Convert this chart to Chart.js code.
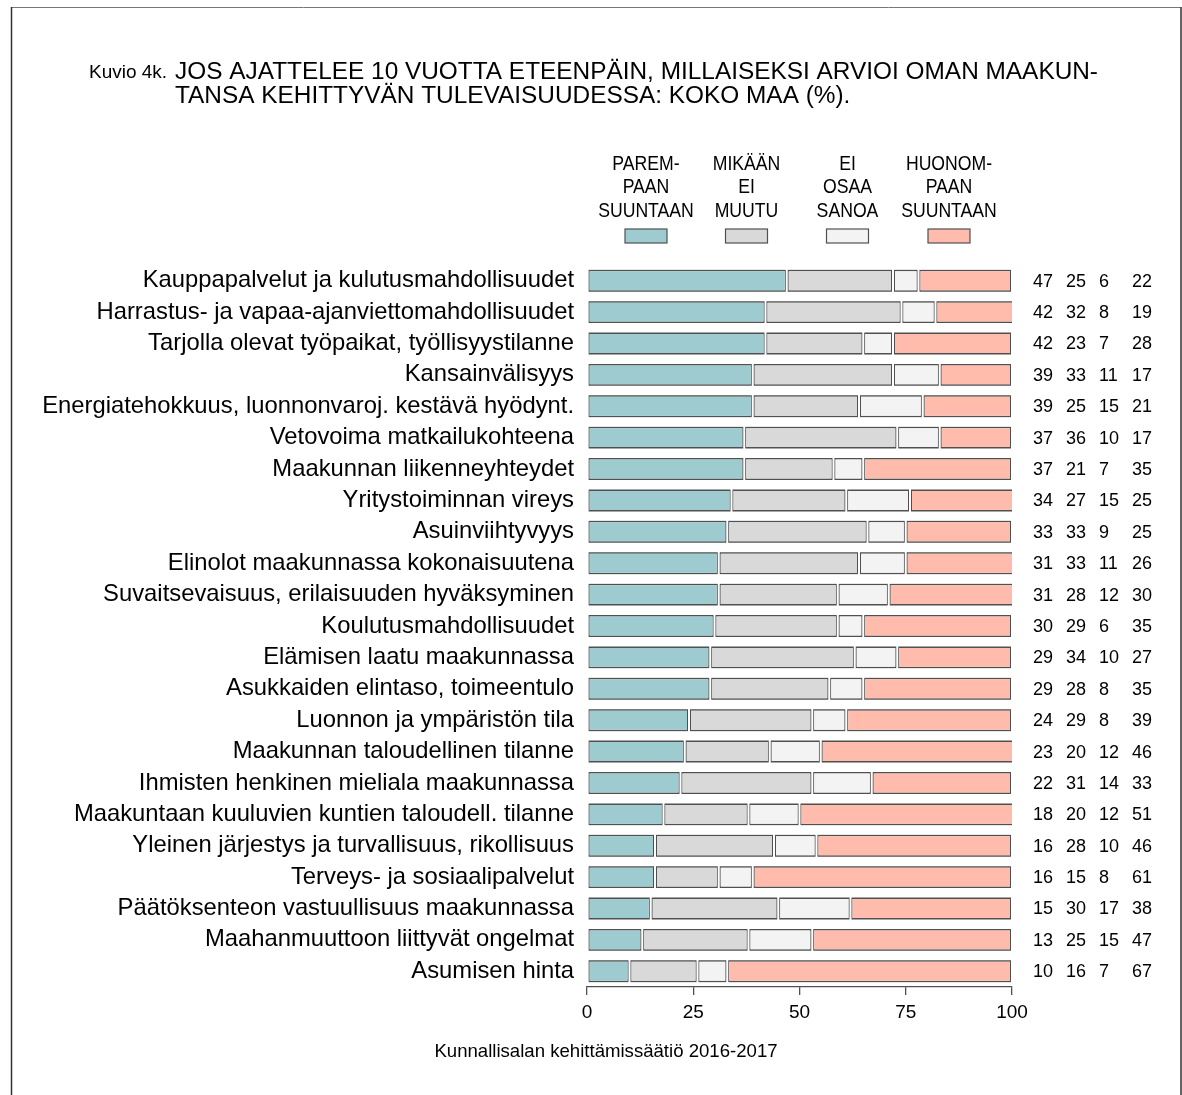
<!DOCTYPE html>
<html>
<head>
<meta charset="utf-8">
<script src="https://cdn.jsdelivr.net/npm/chart.js@4/dist/chart.umd.min.js"></script>
<style>
	html, body { margin: 0; padding: 0; background: #fff; }
	#wrap { position: relative; width: 1182px; height: 1095px; }
</style>
</head>
<body>
<div id="wrap"><canvas id="grafico" width="1182" height="1095"></canvas></div>
<script>
const categorias = [
	"Kauppapalvelut ja kulutusmahdollisuudet",
	"Harrastus- ja vapaa-ajanviettomahdollisuudet",
	"Tarjolla olevat työpaikat, työllisyystilanne",
	"Kansainvälisyys",
	"Energiatehokkuus, luonnonvaroj. kestävä hyödynt.",
	"Vetovoima matkailukohteena",
	"Maakunnan liikenneyhteydet",
	"Yritystoiminnan vireys",
	"Asuinviihtyvyys",
	"Elinolot maakunnassa kokonaisuutena",
	"Suvaitsevaisuus, erilaisuuden hyväksyminen",
	"Koulutusmahdollisuudet",
	"Elämisen laatu maakunnassa",
	"Asukkaiden elintaso, toimeentulo",
	"Luonnon ja ympäristön tila",
	"Maakunnan taloudellinen tilanne",
	"Ihmisten henkinen mieliala maakunnassa",
	"Maakuntaan kuuluvien kuntien taloudell. tilanne",
	"Yleinen järjestys ja turvallisuus, rikollisuus",
	"Terveys- ja sosiaalipalvelut",
	"Päätöksenteon vastuullisuus maakunnassa",
	"Maahanmuuttoon liittyvät ongelmat",
	"Asumisen hinta",
]

const parempaan = [47, 42, 42, 39, 39, 37, 37, 34, 33, 31, 31, 30, 29, 29, 24, 23, 22, 18, 16, 16, 15, 13, 10]
const eiMuutu = [25, 32, 23, 33, 25, 36, 21, 27, 33, 33, 28, 29, 34, 28, 29, 20, 31, 20, 28, 15, 30, 25, 16]
const eiOsaa = [6, 8, 7, 11, 15, 10, 7, 15, 9, 11, 12, 6, 10, 8, 8, 12, 14, 12, 10, 8, 17, 15, 7]
const huonompaan = [22, 19, 28, 17, 21, 17, 35, 25, 25, 26, 30, 35, 27, 35, 39, 46, 33, 51, 46, 61, 38, 47, 67]

const sarjat = [
	["PAREM-", "PAAN", "SUUNTAAN"],
	["MIKÄÄN", "EI", "MUUTU"],
	["EI", "OSAA", "SANOA"],
	["HUONOM-", "PAAN", "SUUNTAAN"],
]
const xTicks = [0, 25, 50, 75, 100]

const cores = ["#9ecbd0", "#d9d9d9", "#f3f3f3", "#ffbcad"]
const borda = "#505050"
const FONTE = "'Liberation Sans', Arial, sans-serif"

var valores = [parempaan, eiMuutu, eiOsaa, huonompaan]

// cada segmento cortado 1px dos lados -> fica o vao branco entre eles
const drawOrig = Chart.BarElement.prototype.draw
Chart.BarElement.prototype.draw = function (ctx) {
	const b = this.getProps(["x", "y", "base", "height"])
	const esq = Math.min(b.x, b.base)
	const dir = Math.max(b.x, b.base)
	ctx.save()
	ctx.beginPath()
	ctx.rect(esq + 1, b.y - b.height / 2 + 0.5, dir - esq - 2, b.height - 1)
	ctx.clip()
	drawOrig.call(this, ctx)
	ctx.restore()
}

// moldura, titulo, legenda, numeros da direita e rodape
const extras = {
	id: "extras",
	beforeDraw(chart) {
		const ctx = chart.ctx
		ctx.save()
		ctx.fillStyle = "#fff"
		ctx.fillRect(0, 0, chart.width, chart.height)
		ctx.strokeStyle = "#777"
		ctx.lineWidth = 1
		ctx.beginPath()
		ctx.moveTo(11, 7.5)
		ctx.lineTo(1181, 7.5)
		ctx.stroke()
		ctx.strokeStyle = "#333"
		ctx.lineWidth = 1.5
		ctx.beginPath()
		ctx.moveTo(11.5, 7)
		ctx.lineTo(11.5, chart.height)
		ctx.moveTo(1181, 7)
		ctx.lineTo(1181, chart.height)
		ctx.stroke()
		ctx.restore()
	},
	afterDraw(chart) {
		const ctx = chart.ctx
		const area = chart.chartArea
		const y = chart.scales.y
		ctx.save()
		ctx.fillStyle = "#000"
		ctx.textBaseline = "middle"

		// titulo
		ctx.textAlign = "left"
		ctx.font = "19px " + FONTE
		ctx.fillText("Kuvio 4k.", 89, 73)
		ctx.font = "24.4px " + FONTE
		ctx.fillText("JOS AJATTELEE 10 VUOTTA ETEENPÄIN, MILLAISEKSI ARVIOI OMAN MAAKUN-", 175, 72)
		ctx.fillText("TANSA KEHITTYVÄN TULEVAISUUDESSA: KOKO MAA (%).", 175, 96)

		// legenda (texto estreito)
		const legX = [646, 746.5, 847.5, 949]
		ctx.textAlign = "center"
		ctx.font = "21px " + FONTE
		sarjat.forEach((linhas, i) => {
			linhas.forEach((t, j) => {
				ctx.save()
				ctx.translate(legX[i], 164 + j * 23.5)
				ctx.scale(0.84, 1)
				ctx.fillText(t, 0, 0)
				ctx.restore()
			})
			ctx.fillStyle = cores[i]
			ctx.fillRect(legX[i] - 21, 229, 42, 14)
			ctx.strokeStyle = borda
			ctx.lineWidth = 1.2
			ctx.strokeRect(legX[i] - 21, 229, 42, 14)
			ctx.fillStyle = "#000"
		})

		// numeros
		ctx.textAlign = "left"
		ctx.font = "18px " + FONTE
		categorias.forEach((c, i) => {
			const py = y.getPixelForValue(i)
			valores.forEach((serie, k) => {
				ctx.fillText(String(serie[i]), area.right + 21 + k * 33, py + 1)
			})
		})

		// rodape
		ctx.textAlign = "center"
		ctx.font = "18.6px " + FONTE
		ctx.fillText("Kunnallisalan kehittämissäätiö 2016-2017", 606, 1052)
		ctx.restore()
	},
}

const dataSets = valores.map((serie, i) => ({
	label: sarjat[i].join(" "),
	data: serie,
	backgroundColor: cores[i],
	borderColor: borda,
	borderWidth: 2,
	borderSkipped: false,
	inflateAmount: 0,
	barPercentage: 0.73,
	categoryPercentage: 1,
}))

const config = {
	type: "bar",
	data: {
		labels: categorias,
		datasets: dataSets,
	},
	plugins: [extras],
	options: {
		indexAxis: "y",
		responsive: false,
		animation: false,
		layout: {
			padding: { top: 265, right: 170, bottom: 48, left: 0 },
		},
		plugins: {
			legend: { display: false },
			tooltip: { enabled: false },
		},
		scales: {
			x: {
				stacked: true,
				min: 0,
				max: 100,
				afterBuildTicks(scale) {
					scale.ticks = xTicks.map(v => ({ value: v }))
				},
				afterFit(scale) {
					scale.height = 60
				},
				border: { display: true, color: borda, width: 1.3 },
				grid: {
					drawOnChartArea: false,
					drawTicks: true,
					tickLength: 8,
					color: borda,
					lineWidth: 1.3,
				},
				ticks: {
					color: "#000",
					font: { family: FONTE, size: 19 },
					padding: 6,
					maxRotation: 0,
				},
			},
			y: {
				stacked: true,
				afterFit(scale) {
					scale.width = 587
				},
				border: { display: false },
				grid: { display: false, drawTicks: false },
				ticks: {
					color: "#000",
					font: { family: FONTE, size: 23.8 },
					padding: 13,
					autoSkip: false,
				},
			},
		},
	},
}

var grafico = new Chart(document.getElementById("grafico"), config)
</script>
</body>
</html>
